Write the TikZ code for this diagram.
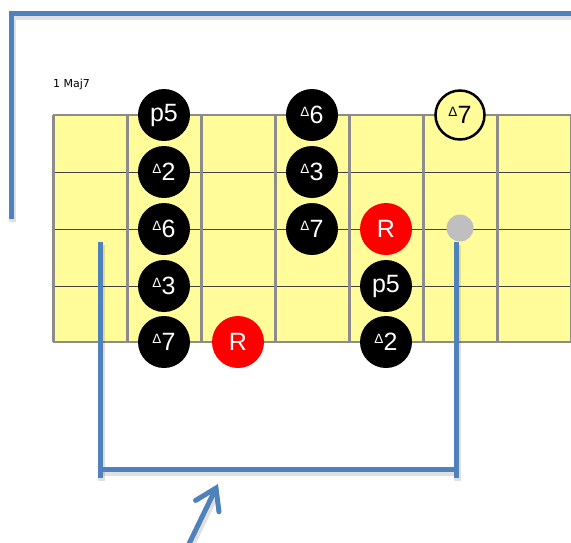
\documentclass[tikz,border=0pt]{standalone}
\usepackage{fontspec}
\setmainfont{Liberation Sans}
\newfontfamily\labfont{DejaVu Sans}
\usetikzlibrary{arrows.meta,calc}
\definecolor{board}{RGB}{255,252,153}
\definecolor{bluel}{RGB}{79,129,189}
\definecolor{fretc}{RGB}{140,140,140}
\definecolor{dotc}{RGB}{191,191,191}
\newcommand{\tri}{\raisebox{7.5pt}{\fontsize{13.5}{13.5}\selectfont Δ}\kern0.3pt}
\tikzset{
  note/.style={circle, fill=black, minimum size=52pt, inner sep=0pt, text=white,
    font=\fontsize{25}{25}\selectfont},
  rootnote/.style={note, fill=red},
  opennote/.style={note, fill=board, draw=black, line width=2.5pt, minimum size=49pt, text=black},
  ghost/.style={circle, fill=dotc, minimum size=27pt, inner sep=0pt},
  bline/.style={draw=bluel, line width=5pt},
  shadowl/.style={draw=black, opacity=0.12, line width=7pt},
  fretline/.style={draw=fretc, line width=3pt},
  strline/.style={draw=black!75, line width=0.8pt}
}
\begin{document}
\begin{tikzpicture}[x=1pt,y=-1pt]
\useasboundingbox (0,0) rectangle (571,542);
% fretboard
\fill[board] (53,115) rectangle (572,342);
\foreach \y in {172,229,286} \draw[strline] (53,\y) -- (571,\y);
\draw[fretc, line width=1.5pt] (53,115) -- (571,115);
\draw[fretc, line width=2.5pt] (53,342) -- (571,342);
\foreach \x in {53,127,...,571} \draw[fretline] (\x,115) -- (\x,342);
% label
\node[anchor=base west, inner sep=0pt, font=\labfont\fontsize{11}{11}\selectfont] (lab) at (53,87) {1 Maj7};
% notes column 1
\node[note] (a1) at (164,115) {p5};
\node[note] (a2) at (164,172) {\tri2};
\node[note] (a3) at (164,229) {\tri6};
\node[note] (a4) at (164,286) {\tri3};
\node[note] (a5) at (164,342) {\tri7};
% column 2
\node[rootnote] (b5) at (238,342) {R};
% column 3
\node[note] (c1) at (312,115) {\tri6};
\node[note] (c2) at (312,172) {\tri3};
\node[note] (c3) at (312,229) {\tri7};
% column 4
\node[rootnote] (d3) at (386,229) {R};
\node[note] (d4) at (386,286) {p5};
\node[note] (d5) at (386,342) {\tri2};
% column 5
\node[opennote] (e1) at (460,115) {\tri7};
\node[ghost] (e3) at (460,228) {};
% blue bracket coordinates
\coordinate (tl0) at (11,219);
\coordinate (tl1) at (11,13);
\coordinate (tl2) at (571,13);
\coordinate (bl0) at (100,242);
\coordinate (bl1) at (100,478);
\coordinate (br0) at (456,242);
\coordinate (br1) at (456,478);
\coordinate (bh0) at (100,469);
\coordinate (bh1) at (456,469);
\coordinate (ar0) at (186,550);
\coordinate (ar1) at (218,484);
\coordinate (ar2) at ($(ar0)!0.9!(ar1)$);
% shadows (offset down-right)
\draw[shadowl] ([xshift=1.5pt,yshift=-3pt]tl0) -- ([xshift=1.5pt,yshift=-3pt]tl1) -- ([xshift=1.5pt,yshift=-3pt]tl2);
\draw[shadowl] ([xshift=1.5pt,yshift=-3pt]bl0) -- ([xshift=1.5pt,yshift=-3pt]bl1);
\draw[shadowl] ([xshift=1.5pt,yshift=-3pt]br0) -- ([xshift=1.5pt,yshift=-3pt]br1);
\draw[shadowl] ([xshift=1.5pt,yshift=-3pt]bh0) -- ([xshift=1.5pt,yshift=-3pt]bh1);
\draw[shadowl] ([xshift=1.5pt,yshift=-3pt]ar0) -- ([xshift=1.5pt,yshift=-3pt]ar2);
% blue lines
\draw[bline] (tl0) -- (tl1) -- (tl2);
\draw[bline] (bl0) -- (bl1);
\draw[bline] (br0) -- (br1);
\draw[bline] (bh0) -- (bh1);
\draw[bline, line cap=round, -{Straight Barb[length=20pt, width=26pt, line cap=round]}] (ar0) -- (ar1);
\end{tikzpicture}
\end{document}
